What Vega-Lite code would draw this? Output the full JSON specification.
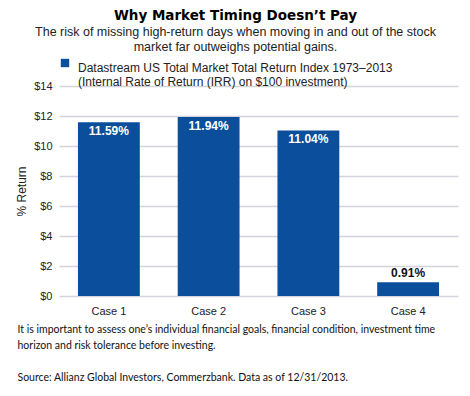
{
  "$schema": "https://vega.github.io/schema/vega-lite/v6.json",
  "width": 399,
  "height": 210,
  "autosize": {"type": "none"},
  "padding": {"left": 59, "top": 86, "right": 12, "bottom": 100},
  "background": "white",
  "config": {"view": {"stroke": null}, "font": "Liberation Sans"},
  "title": {
    "text": "Why Market Timing Doesn’t Pay",
    "subtitle": ["The risk of missing high-return days when moving in and out of the stock", "market far outweighs potential gains."],
    "anchor": "middle",
    "frame": "group",
    "dx": -23,
    "font": "DejaVu Sans",
    "fontSize": 13.5,
    "fontWeight": "bold",
    "color": "#000000",
    "subtitleFont": "Liberation Sans",
    "subtitleFontSize": 12.5,
    "subtitleColor": "#222222",
    "subtitleLineHeight": 15,
    "subtitlePadding": 3,
    "offset": 4
  },
  "data": {
    "values": [
      {"case": "Case 1", "value": 11.59, "label": "11.59%", "series": "Datastream"},
      {"case": "Case 2", "value": 11.94, "label": "11.94%", "series": "Datastream"},
      {"case": "Case 3", "value": 11.04, "label": "11.04%", "series": "Datastream"},
      {"case": "Case 4", "value": 0.91, "label": "0.91%", "series": "Datastream"}
    ]
  },
  "encoding": {
    "x": {
      "field": "case",
      "type": "nominal",
      "sort": null,
      "scale": {"paddingInner": 0.38, "paddingOuter": 0.19},
      "axis": {
        "labelAngle": 0,
        "labelFontSize": 11,
        "labelColor": "#222222",
        "labelPadding": 9,
        "ticks": false,
        "domain": false,
        "title": ["It is important to assess one’s individual financial goals, financial condition, investment time", "horizon and risk tolerance before investing.", "\u200b", "Source: Allianz Global Investors, Commerzbank. Data as of 12/31/2013."],
        "titleFont": "Lato",
        "titleFontSize": 10.5,
        "titleFontWeight": "normal",
        "titleColor": "#111111",
        "titleAnchor": "start",
        "titleAlign": "left",
        "titleBaseline": "top",
        "titleLineHeight": 16,
        "titleX": -42,
        "titleY": 28
      }
    },
    "y": {
      "field": "value",
      "type": "quantitative",
      "scale": {"domain": [0, 14], "nice": false},
      "axis": {
        "values": [0, 2, 4, 6, 8, 10, 12, 14],
        "labelExpr": "'$' + datum.value",
        "labelFontSize": 11,
        "labelColor": "#222222",
        "labelPadding": 7,
        "ticks": false,
        "domain": false,
        "gridColor": "#d4d4dc",
        "gridWidth": 1.5,
        "title": "% Return",
        "titleFontSize": 12,
        "titleFontWeight": "normal",
        "titleColor": "#222222",
        "titlePadding": 5
      }
    }
  },
  "layer": [
    {
      "mark": {"type": "bar", "color": "#0b4f9c"},
      "encoding": {
        "color": {
          "field": "series",
          "type": "nominal",
          "scale": {"range": ["#0b4f9c"]},
          "legend": {
            "orient": "none",
            "legendX": 0,
            "legendY": -29,
            "title": null,
            "symbolType": "square",
            "symbolSize": 70,
            "symbolStrokeWidth": 0,
            "labelFontSize": 12,
            "labelColor": "#222222",
            "labelLimit": 0,
            "labelBaseline": "top",
            "labelOffset": 7,
            "labelExpr": "['Datastream US Total Market Total Return Index 1973–2013', '(Internal Rate of Return (IRR) on $100 investment)']"
          }
        }
      }
    },
    {
      "transform": [{"filter": "datum.value >= 2"}],
      "mark": {"type": "text", "baseline": "top", "dy": 4, "color": "white", "fontWeight": "bold", "fontSize": 12},
      "encoding": {"text": {"field": "label"}}
    },
    {
      "transform": [{"filter": "datum.value < 2"}],
      "mark": {"type": "text", "baseline": "bottom", "dy": -2, "color": "#111111", "fontWeight": "bold", "fontSize": 12},
      "encoding": {"text": {"field": "label"}}
    }
  ]
}
